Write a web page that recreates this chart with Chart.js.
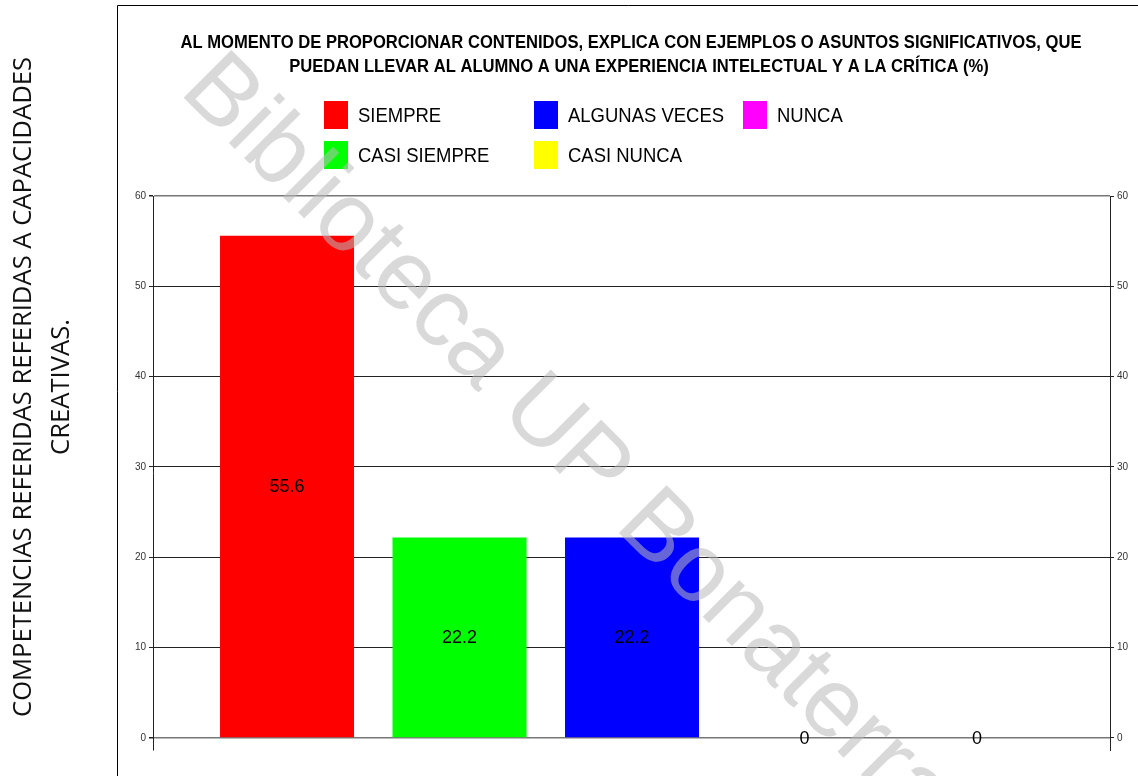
<!DOCTYPE html>
<html lang="es">
<head>
  <meta charset="UTF-8" />
  <title>Competencias - capacidades creativas</title>
  <script src="https://cdn.jsdelivr.net/npm/chart.js"></script>
  <style>
    html, body { margin: 0; padding: 0; background: #fff; }
    #wrap { width: 1138px; height: 776px; position: relative; }
  </style>
</head>
<body>
  <div id="wrap">
    <canvas id="chart" width="1138" height="776"></canvas>
  </div>

  <script>
    // data
    const categories = ['SIEMPRE', 'CASI SIEMPRE', 'ALGUNAS VECES', 'CASI NUNCA', 'NUNCA'];
    const values = [55.6, 22.2, 22.2, 0, 0];
    const barColors = ['#ff0000', '#00ff00', '#0000ff', '#ffff00', '#ff00ff'];
    const yTicks = [0, 10, 20, 30, 40, 50, 60];
    const titleLines = [
      'AL MOMENTO DE PROPORCIONAR CONTENIDOS, EXPLICA CON EJEMPLOS O ASUNTOS SIGNIFICATIVOS, QUE',
      'PUEDAN LLEVAR AL ALUMNO A UNA EXPERIENCIA INTELECTUAL Y A LA CRÍTICA (%)'
    ];
    const sideLines = ['COMPETENCIAS REFERIDAS REFERIDAS A CAPACIDADES', 'CREATIVAS.'];
    const watermark = 'Biblioteca UP Bonaterra';

    // legend is filled column by column (2 rows)
    const legendCols = [324, 534, 743];
    const legendRows = [101, 141];

    function scaledText(ctx, text, x, y, sx) {
      ctx.save();
      ctx.translate(x, y);
      ctx.scale(sx, 1);
      ctx.fillText(text, 0, 0);
      ctx.restore();
    }

    const decor = {
      id: 'decor',
      beforeDraw(chart) {
        const ctx = chart.ctx;
        ctx.save();
        // frame around the chart
        ctx.strokeStyle = '#000';
        ctx.lineWidth = 1;
        ctx.beginPath();
        ctx.moveTo(117.5, 800);
        ctx.lineTo(117.5, 5.5);
        ctx.lineTo(1200, 5.5);
        ctx.stroke();

        // rotated side caption
        ctx.fillStyle = '#111';
        ctx.font = '25px "Open Sans"';
        ctx.textAlign = 'center';
        ctx.textBaseline = 'middle';
        const w0 = ctx.measureText(sideLines[0]).width;
        const sx = 660 / w0;
        [24, 62].forEach((cx, i) => {
          ctx.save();
          ctx.translate(cx, 387);
          ctx.rotate(-Math.PI / 2);
          ctx.scale(sx, 1);
          ctx.fillText(sideLines[i], 0, 0);
          ctx.restore();
        });

        // title
        ctx.font = 'bold 18px "Liberation Sans"';
        ctx.fillStyle = '#000';
        const tw = ctx.measureText(titleLines[0]).width;
        const tsx = 901 / tw;
        scaledText(ctx, titleLines[0], 631, 43, tsx);
        scaledText(ctx, titleLines[1], 639, 67, tsx);

        // legend
        ctx.textAlign = 'left';
        ctx.font = '21px "Liberation Sans"';
        categories.forEach((c, i) => {
          const x = legendCols[Math.floor(i / 2)];
          const y = legendRows[i % 2];
          ctx.fillStyle = barColors[i];
          ctx.fillRect(x, y, 24, 28);
          ctx.fillStyle = '#000';
          scaledText(ctx, c, x + 34, y + 15, 0.88);
        });
        ctx.restore();
      },
      afterDatasetsDraw(chart) {
        const ctx = chart.ctx;
        const meta = chart.getDatasetMeta(0);
        ctx.save();
        ctx.font = '18px "Liberation Sans"';
        ctx.fillStyle = '#000';
        ctx.textAlign = 'center';
        ctx.textBaseline = 'middle';
        meta.data.forEach((bar, i) => {
          const y = (bar.y + bar.base) / 2;
          ctx.fillText(String(values[i]), bar.x, y + 1);
        });
        ctx.restore();
      },
      afterDraw(chart) {
        const ctx = chart.ctx;
        ctx.save();
        ctx.font = '98px "Liberation Sans"';
        ctx.fillStyle = 'rgba(185,185,185,0.55)';
        ctx.textBaseline = 'alphabetic';
        ctx.translate(178, 92);
        ctx.rotate(Math.PI / 4);
        ctx.fillText(watermark, 0, 0);
        ctx.restore();
      }
    };

    function isEdge(c) {
      return c.tick && (c.tick.value === 0 || c.tick.value === 60);
    }

    const yCommon = {
      type: 'linear',
      min: -1.33,
      max: 60,
      afterBuildTicks: s => { s.ticks = yTicks.map(v => ({ value: v })); },
      border: { display: true, color: '#222', width: 1 },
      ticks: {
        padding: 3,
        color: '#333',
        font: { family: 'Liberation Sans', size: 10 }
      }
    };

    new Chart(document.getElementById('chart'), {
      type: 'bar',
      data: {
        datasets: [{
          data: values.map((v, i) => ({ x: i, y: v })),
          backgroundColor: barColors,
          borderWidth: 0,
          barPercentage: 0.777,
          categoryPercentage: 1
        }]
      },
      options: {
        responsive: false,
        animation: false,
        layout: { padding: { top: 196, bottom: 26, left: 0, right: 0 } },
        plugins: {
          legend: { display: false },
          title: { display: false },
          tooltip: { enabled: false }
        },
        scales: {
          x: {
            type: 'linear',
            offset: false,
            min: -0.777,
            max: 4.771,
            display: false,
            afterBuildTicks: s => { s.ticks = categories.map((c, i) => ({ value: i })); }
          },
          y: Object.assign({}, yCommon, {
            position: 'left',
            afterFit: s => { s.width = 153; },
            grid: {
              color: c => isEdge(c) ? '#777' : '#222',
              lineWidth: c => isEdge(c) ? 1.5 : 1,
              tickLength: 4,
              tickColor: '#222'
            }
          }),
          y2: Object.assign({}, yCommon, {
            position: 'right',
            afterFit: s => { s.width = 28; },
            grid: {
              drawOnChartArea: false,
              tickLength: 4,
              tickColor: '#222'
            }
          })
        }
      },
      plugins: [decor]
    });
  </script>
</body>
</html>
